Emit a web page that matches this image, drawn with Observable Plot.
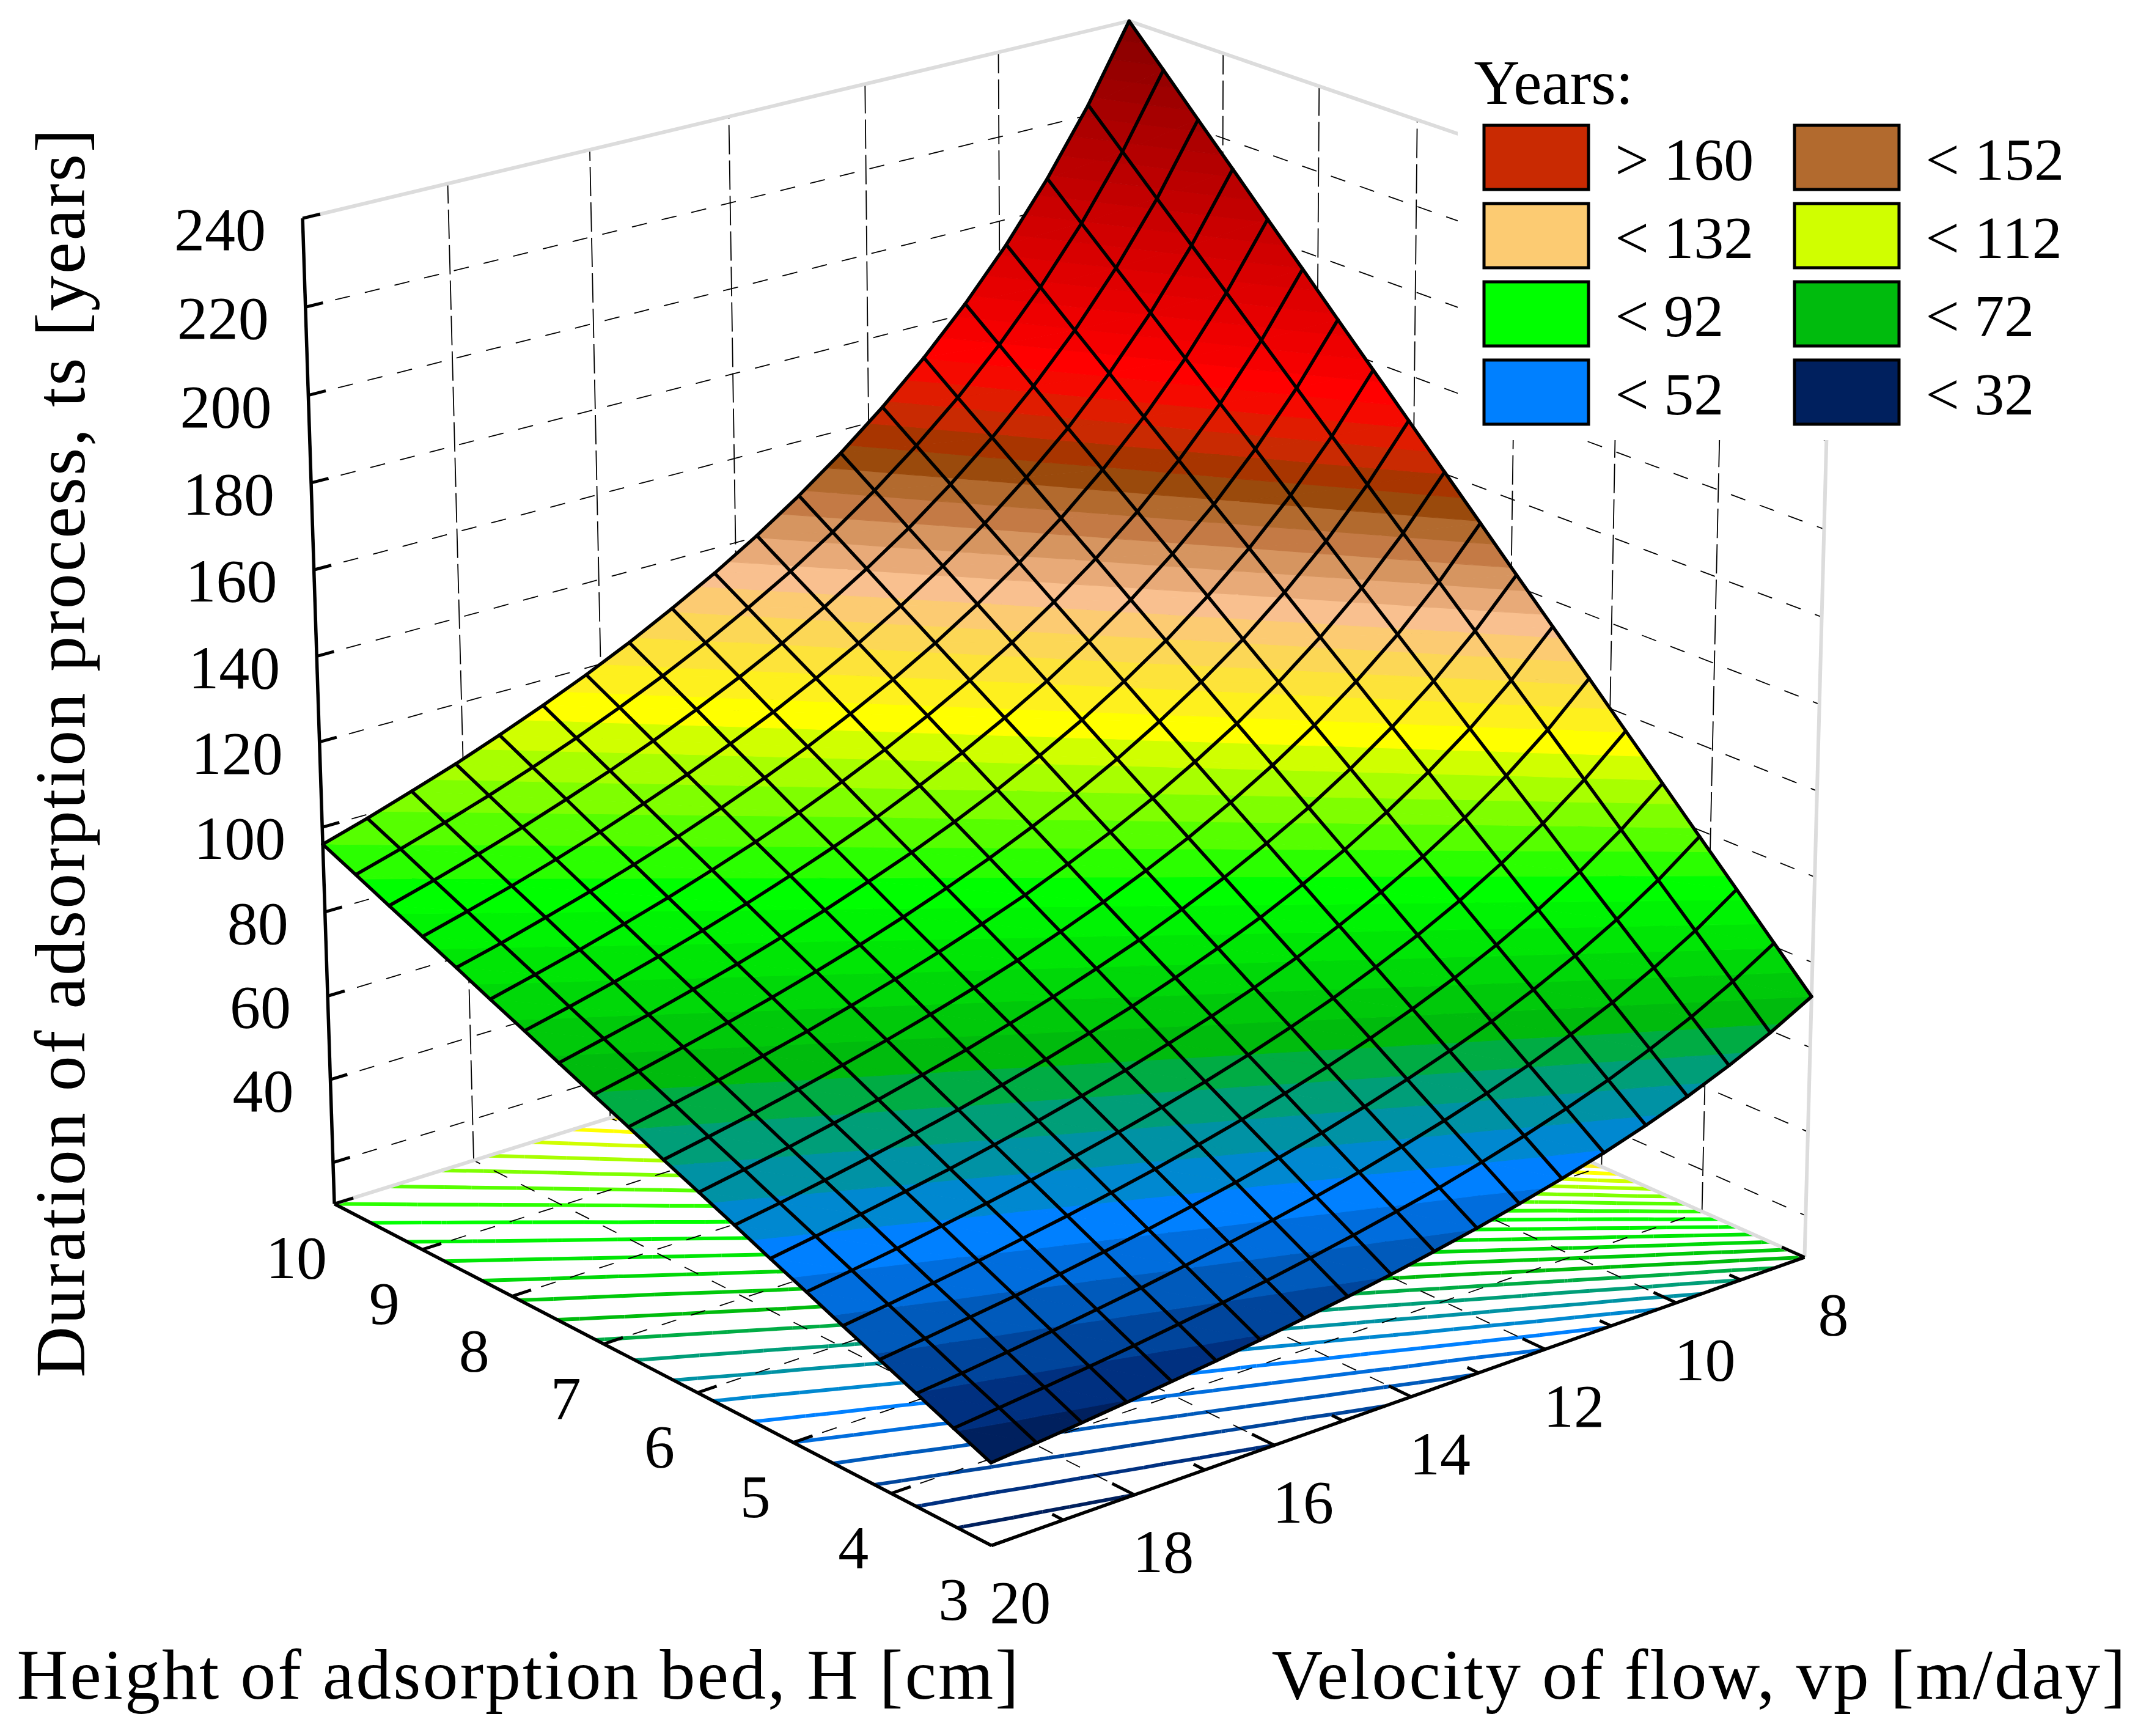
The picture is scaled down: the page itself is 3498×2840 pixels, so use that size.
<!DOCTYPE html>
<html><head><meta charset="utf-8">
<style>html,body{margin:0;padding:0;background:#fff}svg{display:block}.axtitle{letter-spacing:3px}</style>
<script src="https://cdn.jsdelivr.net/npm/d3@7"></script>
<script src="https://cdn.jsdelivr.net/npm/@observablehq/plot@0.6"></script>
</head><body><div id="chart"></div>
<script>
// Mesh nodes
const bedHeight = [3,3.368,3.737,4.105,4.474,4.842,5.211,5.579,5.947,6.316,6.684,7.053,7.421,7.789,8.158,8.526,8.895,9.263,9.632,10];
const flowVelocity = [8,8.632,9.263,9.895,10.526,11.158,11.789,12.421,13.053,13.684,14.316,14.947,15.579,16.211,16.842,17.474,18.105,18.737,19.368,20];
// Duration ts [years]: one array per velocity, one value per bed height
const ts_v00 = [72,80.8,89.7,98.5,107.4,116.2,125.1,133.9,142.7,151.6,160.4,169.3,178.1,186.9,195.8,204.6,213.5,222.3,231.2,240];
const ts_v01 = [66.7,74.9,83.1,91.3,99.5,107.7,115.9,124.1,132.3,140.5,148.7,156.9,165.1,173.3,181.5,189.7,197.9,206.0,214.2,222.4];
const ts_v02 = [62.2,69.8,77.5,85.1,92.7,100.4,108.0,115.6,123.3,130.9,138.5,146.2,153.8,161.5,169.1,176.7,184.4,192.0,199.6,207.3];
const ts_v03 = [58.2,65.4,72.5,79.7,86.8,94.0,101.1,108.3,115.4,122.6,129.7,136.9,144.0,151.1,158.3,165.4,172.6,179.7,186.9,194.0];
const ts_v04 = [54.7,61.4,68.2,74.9,81.6,88.3,95.0,101.8,108.5,115.2,121.9,128.6,135.4,142.1,148.8,155.5,162.2,169.0,175.7,182.4];
const ts_v05 = [51.6,58.0,64.3,70.6,77.0,83.3,89.7,96.0,102.3,108.7,115.0,121.4,127.7,134.0,140.4,146.7,153.1,159.4,165.7,172.1];
const ts_v06 = [48.9,54.9,60.9,66.9,72.9,78.9,84.9,90.9,96.9,102.9,108.9,114.9,120.9,126.9,132.9,138.9,144.9,150.9,156.9,162.9];
const ts_v07 = [46.4,52.1,57.8,63.5,69.2,74.8,80.5,86.2,91.9,97.6,103.3,109.0,114.7,120.4,126.1,131.8,137.5,143.2,148.9,154.6];
const ts_v08 = [44.1,49.5,55.0,60.4,65.8,71.2,76.6,82.1,87.5,92.9,98.3,103.7,109.2,114.6,120.0,125.4,130.8,136.3,141.7,147.1];
const ts_v09 = [42.1,47.3,52.4,57.6,62.8,67.9,73.1,78.3,83.4,88.6,93.8,99.0,104.1,109.3,114.5,119.6,124.8,130.0,135.1,140.3];
const ts_v10 = [40.2,45.2,50.1,55.1,60.0,64.9,69.9,74.8,79.8,84.7,89.6,94.6,99.5,104.5,109.4,114.4,119.3,124.2,129.2,134.1];
const ts_v11 = [38.5,43.3,48.0,52.7,57.5,62.2,66.9,71.7,76.4,81.1,85.9,90.6,95.3,100.0,104.8,109.5,114.2,119.0,123.7,128.5];
const ts_v12 = [37.0,41.5,46.1,50.6,55.1,59.7,64.2,68.8,73.3,77.8,82.4,86.9,91.5,96.0,100.5,105.1,109.6,114.2,118.7,123.2];
const ts_v13 = [35.5,39.9,44.3,48.6,53.0,57.4,61.7,66.1,70.4,74.8,79.2,83.5,87.9,92.3,96.6,101.0,105.3,109.7,114.1,118.4];
const ts_v14 = [34.2,38.4,42.6,46.8,51.0,55.2,59.4,63.6,67.8,72.0,76.2,80.4,84.6,88.8,93.0,97.2,101.4,105.6,109.8,114.0];
const ts_v15 = [33.0,37.0,41.1,45.1,49.2,53.2,57.2,61.3,65.3,69.4,73.4,77.5,81.5,85.6,89.6,93.7,97.7,101.8,105.8,109.9];
const ts_v16 = [31.8,35.7,39.6,43.5,47.4,51.4,55.3,59.2,63.1,67.0,70.9,74.8,78.7,82.6,86.5,90.4,94.3,98.2,102.1,106.0];
const ts_v17 = [30.7,34.5,38.3,42.1,45.8,49.6,53.4,57.2,60.9,64.7,68.5,72.3,76.0,79.8,83.6,87.4,91.1,94.9,98.7,102.5];
const ts_v18 = [29.7,33.4,37.0,40.7,44.3,48.0,51.7,55.3,59.0,62.6,66.3,69.9,73.6,77.2,80.9,84.5,88.2,91.8,95.5,99.1];
const ts_v19 = [28.8,32.3,35.9,39.4,42.9,46.5,50.0,53.6,57.1,60.6,64.2,67.7,71.2,74.8,78.3,81.9,85.4,88.9,92.5,96.0];
const tsTable = [ts_v00,ts_v01,ts_v02,ts_v03,ts_v04,ts_v05,ts_v06,ts_v07,ts_v08,ts_v09,ts_v10,ts_v11,ts_v12,ts_v13,ts_v14,ts_v15,ts_v16,ts_v17,ts_v18,ts_v19];

// Axis tick values and labels
const heightTicks = [3,4,5,6,7,8,9,10];
const velocityTicks = [8,9,10,11,12,13,14,15,16,17,18,19,20];
const velocityLabels = [8,10,12,14,16,18,20];
const tsTicks = [20,40,60,80,100,120,140,160,180,200,220,240];
const tsLabels = [40,60,80,100,120,140,160,180,200,220,240];

// Colour bands: ramp[i] fills values below levels[i]
const levels = d3.range(32, 248, 4);
const ramp = ["#00205e","#003080","#00459c","#005abb","#006ddd","#0080ff","#0088d0","#0092a4","#009e78","#00ac44","#00bb0d",
 "#00c90a","#00d808","#00e605","#00f303","#00ff00","#2bff00","#56ff00","#7fff00","#a8ff00","#d0ff00","#ffff00","#fef01e",
 "#fde33a","#fcd756","#fccb72","#f9c08f","#e8aa78","#d69560","#c47a45","#b26a2e","#9a4a0c","#a83500","#c92a02","#e01c00",
 "#f50a00","#ff0000","#f50000","#ee0000","#e60000","#df0000","#d80000","#d10000","#ca0000","#c20000","#bb0000","#b40000",
 "#ad0000","#a60000","#9e0000","#970000","#900000","#890000","#820000","#800000"];

// Legend
const legendTitle = "Years:";
const legendLabels = ["> 160","< 152","< 132","< 112","< 92","< 72","< 52","< 32"];
const legendBandValues = [161,150,130,110,90,70,50,30];

// Axis titles
const titleH = "Height of adsorption bed, H [cm]";
const titleV = "Velocity of flow, vp [m/day]";
const titleT = "Duration of adsorption process, ts [years]";

// Camera: reference points of the box (H, vp, ts) -> page position, solved by least squares
const zFloor = 10, zTop = 240;
const cameraPoints = [
 [3,20,10,1621,2531],[10,20,10,541,1972],[3,8,10,2952,2060],[10,8,10,1850,1560],
 [10,20,240,494,355],[10,8,240,1843,37],[10,20,100,527,1353],[10,20,40,537,1766],
 [3,8,20,2956,1991],[3,8,180,2987,861],[3,8,100,2971,1433],[3,20,28.8,1621,2392],
 [3,8,72,2965,1628],[10,20,96,526,1377],[5,20,10,1306,2360],[7,20,10,994,2197],[9,20,10,695,2044],
 [3,12,10,2519,2202],[3,16,10,2074,2365],[7,8,240,2319,199],[10,18,240,733,300]
];
const nrm = (H,v,z) => [(H-3)/7,(v-8)/12,(z-10)/230];
const cam = (() => {
  const n = 11, A = d3.range(n).map(() => new Array(n+1).fill(0));
  const add = (r, b) => { for (let i=0;i<n;i++){ for (let j=0;j<n;j++) A[i][j]+=r[i]*r[j]; A[i][n]+=r[i]*b; } };
  for (const [H,v,z,px,py] of cameraPoints) {
    const [a,b,c] = nrm(H,v,z), X=px/1000, Y=py/1000;
    add([a,b,c,1,0,0,0,0,-a*X,-b*X,-c*X], X);
    add([0,0,0,0,a,b,c,1,-a*Y,-b*Y,-c*Y], Y);
  }
  for (let i=0;i<n;i++){
    let p=i; for (let r=i+1;r<n;r++) if (Math.abs(A[r][i])>Math.abs(A[p][i])) p=r;
    [A[i],A[p]]=[A[p],A[i]];
    for (let r=0;r<n;r++) if (r!==i){ const f=A[r][i]/A[i][i]; for (let c=i;c<=n;c++) A[r][c]-=f*A[i][c]; }
  }
  return A.map((row,i)=>row[n]/row[i]);
})();
const P = (H,v,z) => {
  const [a,b,c] = nrm(H,v,z), m = cam;
  const w = m[8]*a+m[9]*b+m[10]*c+1;
  return [1000*(m[0]*a+m[1]*b+m[2]*c+m[3])/w, 1000*(m[4]*a+m[5]*b+m[6]*c+m[7])/w];
};

// Triangles of the mesh, clipped to colour bands
const clip = (poly, keep) => {
  const out = [];
  poly.forEach((p,i) => {
    const q = poly[(i+1)%poly.length], ip = keep.in(p[2]), iq = keep.in(q[2]);
    if (ip) out.push(p);
    if (ip !== iq) { const t=(keep.at-p[2])/(q[2]-p[2]); out.push([p[0]+t*(q[0]-p[0]),p[1]+t*(q[1]-p[1]),keep.at]); }
  });
  return out;
};
const node = (i,j) => [bedHeight[i], flowVelocity[j], tsTable[j][i]];
const triangles = [];
for (let j=0;j<flowVelocity.length-1;j++) for (let i=0;i<bedHeight.length-1;i++) {
  triangles.push([node(i,j),node(i+1,j),node(i+1,j+1)]);
  triangles.push([node(i,j),node(i+1,j+1),node(i,j+1)]);
}
const surfaceRows = [];
let polyId = 0;
const bounds = [0, ...levels, 1000];
for (const tri of triangles) {
  const zs = tri.map(d=>d[2]), lo = d3.min(zs), hi = d3.max(zs);
  for (let b=0;b<bounds.length-1;b++) {
    if (bounds[b+1] <= lo || bounds[b] >= hi) continue;
    let poly = clip(tri, {at:bounds[b], in:z=>z>=bounds[b]});
    if (poly.length>2) poly = clip(poly, {at:bounds[b+1], in:z=>z<=bounds[b+1]});
    if (poly.length<3) continue;
    const mid = (bounds[b]+bounds[b+1])/2, id = polyId++;
    for (const p of poly) { const [x,y]=P(...p); surfaceRows.push({x,y,id,band:mid}); }
  }
}
// Floor contours: the same levels drawn on the box floor
const contourRows = [];
for (const L of levels) for (const tri of triangles) {
  const pts = [];
  tri.forEach((p,i)=>{ const q=tri[(i+1)%3];
    if ((p[2]<L)!==(q[2]<L)) { const t=(L-p[2])/(q[2]-p[2]); pts.push([p[0]+t*(q[0]-p[0]),p[1]+t*(q[1]-p[1])]); } });
  if (pts.length===2) contourRows.push({a:[pts[0][0],pts[0][1],zFloor], b:[pts[1][0],pts[1][1],zFloor], band:L-0.5});
}
// Mesh lines
const meshRows = [];
flowVelocity.forEach((_,j)=>bedHeight.forEach((_,i)=>{ const [x,y]=P(...node(i,j)); meshRows.push({x,y,id:"v"+j}); }));
bedHeight.forEach((_,i)=>flowVelocity.forEach((_,j)=>{ const [x,y]=P(...node(i,j)); meshRows.push({x,y,id:"h"+i}); }));

const seg = (a,b,extra={}) => ({a,b,...extra});
const linkOf = (rows,opts) => Plot.link(rows,{x1:d=>P(...d.a)[0],y1:d=>P(...d.a)[1],x2:d=>P(...d.b)[0],y2:d=>P(...d.b)[1],...opts});
const innerZ = tsTicks.filter(z=>z<zTop);
const wallH = innerZ.flatMap(z=>[seg([10,20,z],[10,8,z]),seg([10,8,z],[3,8,z])]);
const wallV = [10,12,14,16,18].map(v=>seg([10,v,zFloor],[10,v,zTop])).concat([4,5,6,7,8,9].map(h=>seg([h,8,zFloor],[h,8,zTop])));
const floorDash = [4,5,6,7,8,9].map(h=>seg([h,20,zFloor],[h,8,zFloor])).concat([10,12,14,16,18].map(v=>seg([3,v,zFloor],[10,v,zFloor])));
const greyEdges = [seg([10,20,zTop],[10,8,zTop]),seg([10,8,zTop],[3,8,zTop]),seg([3,8,zTop],[3,8,zFloor]),seg([10,20,zFloor],[10,8,zFloor]),seg([10,8,zFloor],[3,8,zFloor]),seg([10,8,zFloor],[10,8,zTop])];
const blackEdges = [seg([10,20,zFloor],[10,20,zTop]),seg([10,20,zFloor],[3,20,zFloor]),seg([3,20,zFloor],[3,8,zFloor])];
const ticks = [
  ...tsTicks.map(z=>seg([10,20,z],[10,19.76,z])),
  ...heightTicks.map(h=>seg([h,20,zFloor],[h,19.73,zFloor])),
  ...velocityTicks.map(v=>seg([3,v,zFloor],[v%2?3.11:3.22,v,zFloor]))
];
const at = (f,i) => d => P(...f(d))[i];

// Layout of the legend on the page
const legendCols = [2428,2936], legendTop = 205, legendPitch = 128, swatchW = 171, swatchH = 105;
const legendRows = legendLabels.map((label,i)=>({label,value:legendBandValues[i],col:i%2,row:Math.floor(i/2)}));

const serif = "'Liberation Serif', serif";
const chart = Plot.plot({
  width:3498, height:2840, margin:0,
  style:{fontFamily:serif, background:"#fff", color:"#000", overflow:"visible"},
  x:{domain:[0,3498],range:[0,3498],axis:null},
  y:{domain:[0,2840],range:[0,2840],axis:null},
  color:{type:"threshold",domain:levels,range:ramp},
  marks:[
    linkOf(wallH,{stroke:"#000",strokeWidth:1.8,strokeDasharray:"25,25"}),
    linkOf(wallV,{stroke:"#000",strokeWidth:1.8,strokeDasharray:"48,10"}),
    linkOf(contourRows,{stroke:"band",strokeWidth:6}),
    linkOf(floorDash,{stroke:"#000",strokeWidth:1.8,strokeDasharray:"25,25"}),
    linkOf(greyEdges,{stroke:"#dcdcdc",strokeWidth:6}),
    linkOf(blackEdges,{stroke:"#000",strokeWidth:5.5}),
    linkOf(ticks,{stroke:"#000",strokeWidth:5}),
    Plot.line(surfaceRows,{x:"x",y:"y",z:"id",fill:"band",stroke:"band",strokeWidth:1,curve:"linear-closed"}),
    Plot.line(meshRows,{x:"x",y:"y",z:"id",stroke:"#000",strokeWidth:5.5,strokeLinejoin:"round"}),
    // white panel behind the legend, then swatches and text
    Plot.rect([0],{x1:()=>2385,x2:()=>3498,y1:()=>100,y2:()=>720,fill:"#fff"}),
    Plot.text([legendTitle],{x:()=>2411,y:()=>136,text:d=>d,textAnchor:"start",fontSize:104,fill:"#000"}),
    Plot.rect(legendRows,{x1:d=>legendCols[d.col],x2:d=>legendCols[d.col]+swatchW,y1:d=>legendTop+d.row*legendPitch,y2:d=>legendTop+d.row*legendPitch+swatchH,fill:"value",stroke:"#000",strokeWidth:5}),
    Plot.text(legendRows,{x:d=>legendCols[d.col]+214,y:d=>legendTop+d.row*legendPitch+swatchH/2+5,text:"label",textAnchor:"start",fontSize:98,fill:"#000"}),
    // tick labels
    Plot.text(tsLabels,{x:at(z=>[10,20,z],0),y:at(z=>[10,20,z],1),text:d=>String(d),dx:-60,dy:20,textAnchor:"end",fontSize:100,fill:"#000"}),
    Plot.text(heightTicks,{x:at(h=>[h,20,zFloor],0),y:at(h=>[h,20,zFloor],1),text:d=>String(d),dx:-62,dy:90,fontSize:100,fill:"#000"}),
    Plot.text(velocityLabels,{x:at(v=>[3,v,zFloor],0),y:at(v=>[3,v,zFloor],1),text:d=>String(d),dx:47,dy:95,fontSize:100,fill:"#000"}),
    // axis titles
    Plot.text([titleH],{x:()=>27,y:()=>2741,text:d=>d,textAnchor:"start",fontSize:116,fill:"#000",className:"axtitle"}),
    Plot.text([titleV],{x:()=>2080,y:()=>2741,text:d=>d,textAnchor:"start",fontSize:116,fill:"#000",className:"axtitle"}),
    Plot.text([titleT],{x:()=>100,y:()=>1230,text:d=>d,rotate:-90,fontSize:116,fill:"#000",className:"axtitle"})
  ]
});
document.getElementById("chart").appendChild(chart);
</script></body></html>
